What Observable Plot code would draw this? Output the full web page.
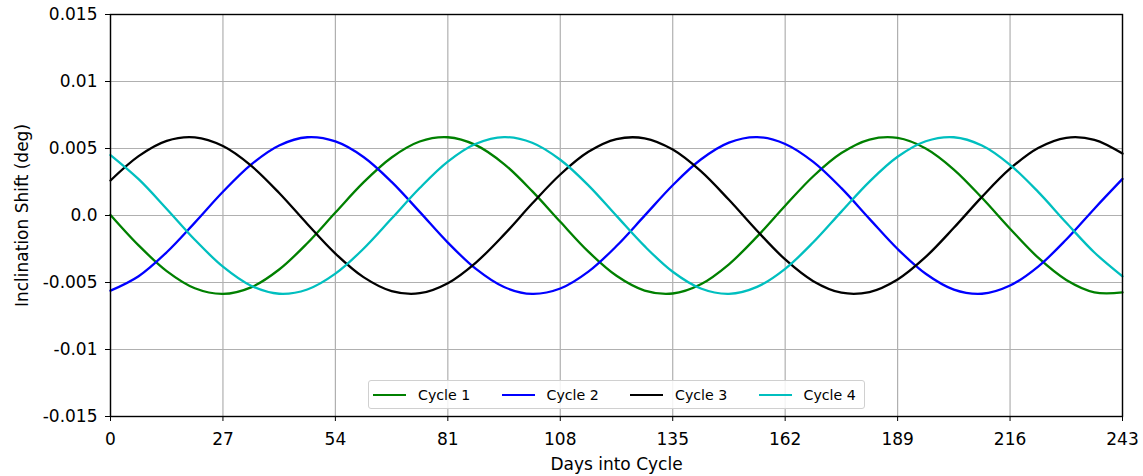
<!DOCTYPE html>
<html>
<head>
<meta charset="utf-8">
<script src="https://cdn.jsdelivr.net/npm/d3@7"></script>
<script src="https://cdn.jsdelivr.net/npm/@observablehq/plot@0.6"></script>
<style>
  html, body { margin: 0; padding: 0; background: #fff; }
  #wrap { position: relative; width: 1143px; height: 476px; font-family: "DejaVu Sans", sans-serif; }
  #legend { position: absolute; left: 368px; top: 380px; width: 497px; height: 29px;
    border: 1px solid #d0d0d0; border-radius: 3px; background: rgba(255,255,255,0.85);
    display: flex; align-items: center; box-sizing: border-box; padding-left: 4px; overflow: hidden; }
  .item { display: flex; align-items: center; flex: 0 0 128.5px; font-size: 14.2px; color: #000; white-space: nowrap; }
  .swatch { flex: 0 0 33px; height: 0; border-top: 2.5px solid; margin-right: 12px; }
</style>
</head>
<body>
<div id="wrap"><div id="chart"></div><div id="legend"></div></div>
<script>
const days = [0, 6.75, 13.5, 20.25, 27, 33.75, 40.5, 47.25, 54, 60.75, 67.5, 74.25, 81, 87.75, 94.5, 101.25, 108, 114.75, 121.5, 128.25, 135, 141.75, 148.5, 155.25, 162, 168.75, 175.5, 182.25, 189, 195.75, 202.5, 209.25, 216, 222.75, 229.5, 236.25, 243];

const cycle1 = [0.00004, -0.00223, -0.00415, -0.00543, -0.00585, -0.00536, -0.00403, -0.00207, 0.00022, 0.00247, 0.00433, 0.00552, 0.00584, 0.00525, 0.00384, 0.00182, -0.00047, -0.00270, -0.00450, -0.00560, -0.00582, -0.00513, -0.00364, -0.00158, 0.00073, 0.00293, 0.00466, 0.00567, 0.00579, 0.00500, 0.00343, 0.00132, -0.00099, -0.00315, -0.00481, -0.00573, -0.00574];
const cycle2 = [-0.00561, -0.00453, -0.00274, -0.00053, 0.00177, 0.00380, 0.00523, 0.00584, 0.00553, 0.00437, 0.00251, 0.00027, -0.00202, -0.00399, -0.00534, -0.00585, -0.00545, -0.00419, -0.00228, -0.00001, 0.00226, 0.00418, 0.00544, 0.00585, 0.00534, 0.00400, 0.00204, -0.00025, -0.00250, -0.00435, -0.00553, -0.00584, -0.00523, -0.00381, -0.00179, 0.00051, 0.00273];
const cycle3 = [0.00261, 0.00443, 0.00557, 0.00583, 0.00518, 0.00372, 0.00168, -0.00063, -0.00284, -0.00460, -0.00564, -0.00580, -0.00505, -0.00351, -0.00143, 0.00089, 0.00306, 0.00475, 0.00570, 0.00576, 0.00492, 0.00331, 0.00117, -0.00114, -0.00328, -0.00490, -0.00576, -0.00571, -0.00477, -0.00309, -0.00092, 0.00139, 0.00349, 0.00504, 0.00580, 0.00565, 0.00462];
const cycle4 = [0.00451, 0.00271, 0.00049, -0.00181, -0.00382, -0.00524, -0.00584, -0.00552, -0.00434, -0.00248, -0.00023, 0.00205, 0.00402, 0.00535, 0.00585, 0.00543, 0.00416, 0.00225, -0.00003, -0.00229, -0.00420, -0.00545, -0.00585, -0.00533, -0.00398, -0.00200, 0.00029, 0.00253, 0.00438, 0.00554, 0.00584, 0.00522, 0.00378, 0.00176, -0.00054, -0.00276, -0.00454];

const seriesNames = ["Cycle 1", "Cycle 2", "Cycle 3", "Cycle 4"];
const seriesColors = ["#008000", "#0000ff", "#000000", "#00bfbf"];
const seriesValues = [cycle1, cycle2, cycle3, cycle4];

const xTicks = [0, 27, 54, 81, 108, 135, 162, 189, 216, 243];
const yTicks = [-0.015, -0.01, -0.005, 0, 0.005, 0.01, 0.015];
const yTickLabels = ["-0.015", "-0.01", "-0.005", "0.0", "0.005", "0.01", "0.015"];

const rows = seriesNames.flatMap((name, s) =>
  days.map((d, i) => ({series: name, day: d, value: seriesValues[s][i]})));

const chart = Plot.plot({
  width: 1143,
  height: 476,
  marginLeft: 110,
  marginRight: 21,
  marginTop: 14,
  marginBottom: 60,
  style: {fontFamily: "DejaVu Sans", fontSize: "17px", color: "#000", background: "#fff"},
  x: {domain: [0, 243]},
  y: {domain: [-0.015, 0.015]},
  color: {domain: seriesNames, range: seriesColors},
  marks: [
    Plot.gridX(xTicks, {stroke: "#b0b0b0", strokeOpacity: 1, strokeWidth: 1.2}),
    Plot.gridY(yTicks, {stroke: "#b0b0b0", strokeOpacity: 1, strokeWidth: 1.2}),
    Plot.line(rows, {x: "day", y: "value", z: "series", stroke: "series", strokeWidth: 2.3, curve: "catmull-rom"}),
    Plot.frame({stroke: "#000", strokeWidth: 1.4}),
    Plot.axisX({ticks: xTicks, tickFormat: d => String(d), tickSize: 5, tickPadding: 11,
      label: "Days into Cycle", labelAnchor: "center", labelArrow: "none", labelOffset: 53}),
    Plot.axisY({ticks: yTicks, tickFormat: d => yTickLabels[yTicks.indexOf(d)], tickSize: 5, tickPadding: 8,
      label: "Inclination Shift (deg)", labelAnchor: "center", labelArrow: "none", labelOffset: 95})
  ]
});
document.getElementById("chart").appendChild(chart);

const legend = document.getElementById("legend");
seriesNames.forEach((name, i) => {
  const item = document.createElement("div");
  item.className = "item";
  const sw = document.createElement("div");
  sw.className = "swatch";
  sw.style.borderTopColor = seriesColors[i];
  const t = document.createElement("span");
  t.textContent = name;
  item.appendChild(sw);
  item.appendChild(t);
  legend.appendChild(item);
});
</script>
</body>
</html>
